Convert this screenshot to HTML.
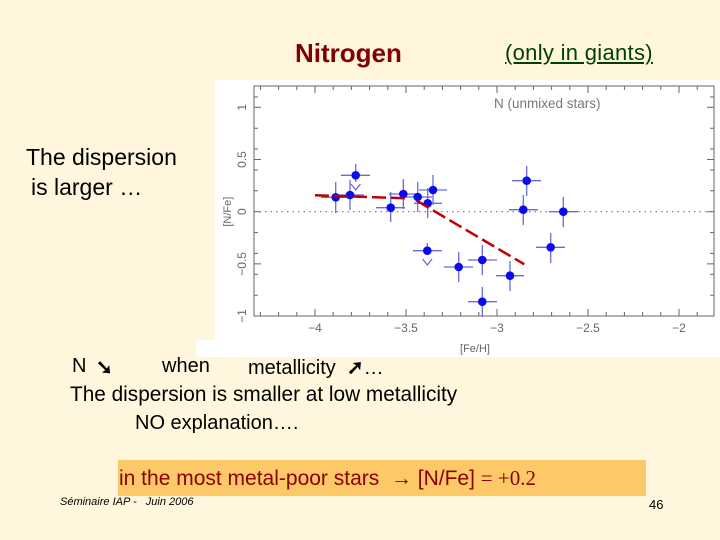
<!DOCTYPE html>
<html><head><meta charset="utf-8"><style>
html,body{margin:0;padding:0;background:#fff6dd;}
body{width:720px;height:540px;overflow:hidden;position:relative;font-family:"Liberation Sans",sans-serif;}
.t{position:absolute;white-space:nowrap;color:#000;}
</style></head><body>
<svg width="720" height="540" style="position:absolute;left:0;top:0" font-family="Liberation Sans, sans-serif">
<rect x="0" y="0" width="720" height="540" fill="#fff6dd"/>
<rect x="215" y="80" width="505" height="277" fill="#fff"/>
<rect x="196" y="340" width="524" height="17" fill="#fff"/>
<rect x="254" y="86" width="460" height="230" fill="none" stroke="#666" stroke-width="1"/>
<g stroke="#666" stroke-width="1">
<line x1="315" y1="316" x2="315" y2="309"/><line x1="315" y1="86" x2="315" y2="93"/>
<line x1="406" y1="316" x2="406" y2="309"/><line x1="406" y1="86" x2="406" y2="93"/>
<line x1="497" y1="316" x2="497" y2="309"/><line x1="497" y1="86" x2="497" y2="93"/>
<line x1="588" y1="316" x2="588" y2="309"/><line x1="588" y1="86" x2="588" y2="93"/>
<line x1="679" y1="316" x2="679" y2="309"/><line x1="679" y1="86" x2="679" y2="93"/>
<path d="M260.4 316v-4M278.6 316v-4M296.8 316v-4M333.2 316v-4M351.4 316v-4M369.6 316v-4M387.8 316v-4M424.2 316v-4M442.4 316v-4M460.6 316v-4M478.8 316v-4M515.2 316v-4M533.4 316v-4M551.6 316v-4M569.8 316v-4M606.2 316v-4M624.4 316v-4M642.6 316v-4M660.8 316v-4M697.2 316v-4
M260.4 86v4M278.6 86v4M296.8 86v4M333.2 86v4M351.4 86v4M369.6 86v4M387.8 86v4M424.2 86v4M442.4 86v4M460.6 86v4M478.8 86v4M515.2 86v4M533.4 86v4M551.6 86v4M569.8 86v4M606.2 86v4M624.4 86v4M642.6 86v4M660.8 86v4M697.2 86v4"/>
<path d="M254 107.3h7M254 159.5h7M254 211.7h7M254 263.9h7M254 316h7M714 107.3h-7M714 159.5h-7M714 211.7h-7M714 263.9h-7"/>
<path d="M254 128.2h4M254 149h4M254 170h4M254 190.8h4M254 232.6h4M254 253.4h4M254 274.3h4M254 295.2h4M254 97h4M714 128.2h-4M714 149h-4M714 170h-4M714 190.8h-4M714 232.6h-4M714 253.4h-4M714 274.3h-4M714 295.2h-4M714 97h-4"/>
</g>
<line x1="254" y1="211.7" x2="714" y2="211.7" stroke="#777" stroke-dasharray="1.5,4" stroke-width="1.2"/>
<g fill="#666" font-size="12">
<text x="315" y="332" text-anchor="middle">−4</text>
<text x="406" y="332" text-anchor="middle">−3.5</text>
<text x="497" y="332" text-anchor="middle">−3</text>
<text x="588" y="332" text-anchor="middle">−2.5</text>
<text x="679" y="332" text-anchor="middle">−2</text>
<text x="475" y="352" text-anchor="middle" font-size="11">[Fe/H]</text>
<text transform="translate(246,107.3) rotate(-90)" text-anchor="middle">1</text>
<text transform="translate(246,159.5) rotate(-90)" text-anchor="middle">0.5</text>
<text transform="translate(246,211.7) rotate(-90)" text-anchor="middle">0</text>
<text transform="translate(246,263.9) rotate(-90)" text-anchor="middle">−0.5</text>
<text transform="translate(246,316) rotate(-90)" text-anchor="middle">−1</text>
<text transform="translate(231,211.7) rotate(-90)" text-anchor="middle" font-size="11">[N/Fe]</text>
<text x="494" y="108" font-size="13.5" fill="#777">N (unmixed stars)</text>
</g>
<g stroke="#6a6ae0" stroke-width="1.3">
<path d="M321 197.3h29M335.7 182v31
M336 195h28M350 180v30
M341 175.3h29M355.7 164v18
M376 207.7h29M390.7 192v30
M389 194h28M403.3 179v30
M404 197h28M417.7 182v30
M414 203.3h28M427.7 188v30
M419 190h28M433 175v30
M413 250.7h29M427.3 243v10
M444 267h29M458.7 252v30
M468 260h29M482.3 245v30
M468 301.7h29M482.3 287v30
M496 275.7h28M510 261v30
M509 209.7h29M523.3 195v30
M512 180.7h29M526.7 166v30
M536 247.3h29M550.7 233v30
M549 211.7h29M563.3 197v30"/>
<path d="M351 184l4.7 6l4.7-6M422.6 259l4.7 6l4.7-6" fill="none"/>
</g>
<g fill="#0a0af0">
<circle cx="335.7" cy="197.3" r="4.3"/><circle cx="350" cy="195" r="4.3"/><circle cx="355.7" cy="175.3" r="4.3"/>
<circle cx="390.7" cy="207.7" r="4.3"/><circle cx="403.3" cy="194" r="4.3"/><circle cx="417.7" cy="197" r="4.3"/>
<circle cx="427.7" cy="203.3" r="4.3"/><circle cx="433" cy="190" r="4.3"/><circle cx="427.3" cy="250.7" r="4.3"/>
<circle cx="458.7" cy="267" r="4.3"/><circle cx="482.3" cy="260" r="4.3"/><circle cx="482.3" cy="301.7" r="4.3"/>
<circle cx="510" cy="275.7" r="4.3"/><circle cx="523.3" cy="209.7" r="4.3"/><circle cx="526.7" cy="180.7" r="4.3"/>
<circle cx="550.7" cy="247.3" r="4.3"/><circle cx="563.3" cy="211.7" r="4.3"/>
</g>
<g stroke="#c00000" stroke-width="2.5" fill="none" stroke-dasharray="14,5">
<path d="M315 195.3L406.7 198.3"/>
<path d="M416.7 200.7L524.3 264.3"/>
</g>
<rect x="118" y="460" width="528" height="36" fill="#fdc868"/>
</svg>
<div class="t" style="left:295px;top:38px;font-size:26px;font-weight:bold;color:#800000">Nitrogen</div>
<div class="t" style="left:505px;top:40px;font-size:22px;color:#004000;text-decoration:underline;letter-spacing:0.3px">(only in giants)</div>
<div class="t" style="left:26px;top:144px;font-size:23px">The dispersion</div>
<div class="t" style="left:31px;top:174px;font-size:23px">is larger …</div>
<div class="t" style="left:72px;top:355px;font-size:20px">N</div>
<div class="t" style="left:96px;top:355px;font-size:20px;font-weight:bold">➘</div>
<div class="t" style="left:162px;top:355px;font-size:20px">when</div>
<div class="t" style="left:248px;top:355px;font-size:20px">metallicity&nbsp;&nbsp;<b>➚</b>…</div>
<div class="t" style="left:70px;top:383px;font-size:20.8px">The dispersion is smaller at low metallicity</div>
<div class="t" style="left:135px;top:412px;font-size:20px">NO explanation….</div>
<div class="t" style="left:119px;top:466px;font-size:21px;color:#8b0000">in the most metal-poor stars&nbsp; <span style="font-family:'Liberation Serif',serif">→</span> [N/Fe] <span style="font-family:'Liberation Serif',serif">= +0.2</span></div>
<div class="t" style="left:60px;top:496px;font-size:11px;font-style:italic">Séminaire IAP -&nbsp;&nbsp; Juin 2006</div>
<div class="t" style="left:649px;top:497px;font-size:13px">46</div>
</body></html>
